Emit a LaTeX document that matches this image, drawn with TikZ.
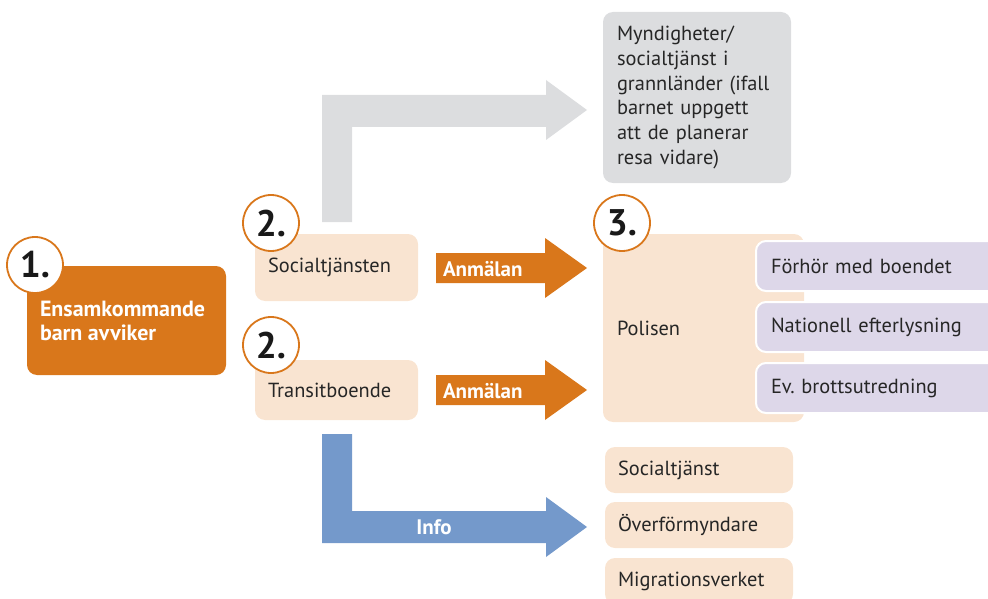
\documentclass[tikz,border=0pt]{standalone}
\usepackage{fontspec}
\setmainfont{PT Sans}
\begin{document}
\begin{tikzpicture}[x=1pt,y=-1pt,
  every node/.style={inner sep=0pt, outer sep=0pt},
  txt/.style={font=\fontsize{20.4}{24.8}\selectfont, text=black!85},
  btxt/.style={font=\fontsize{21}{24}\selectfont\bfseries, text=white},
  numc/.style={circle, draw=myorange, line width=1.8pt, fill=white, minimum size=56, font=\fontsize{37}{37}\selectfont\bfseries, text=black!90},
  pbox/.style={fill=mypeach, rounded corners=10pt, txt, align=left, anchor=north west},
  vbox/.style={fill=mypurple, draw=white, line width=2pt, rounded corners=10pt, txt, align=left, anchor=north west},
  gbox/.style={fill=mygray, rounded corners=10pt, txt, align=left, anchor=north west},
  obox/.style={fill=myorange, rounded corners=10pt, anchor=north west}
]
\definecolor{myorange}{HTML}{D9771B}
\definecolor{mypeach}{HTML}{F9E4D1}
\definecolor{mypurple}{HTML}{DDD7E9}
\definecolor{mygray}{HTML}{DCDDDF}
\definecolor{myblue}{HTML}{7499CB}
\useasboundingbox (0,0) rectangle (988,599);
\clip (0,0) rectangle (988,599);

% block arrows
\fill[mygray] (322,222) -- (322,95) -- (546,95) -- (546,80) -- (587,110) -- (546,140) -- (546,127) -- (352,127) -- (352,222) -- cycle;
\fill[myblue] (322,434) -- (352,434) -- (352,511) -- (546,511) -- (546,497) -- (587,527) -- (546,557) -- (546,543) -- (322,543) -- cycle;
\fill[myorange] (436,253) -- (545,253) -- (545,238) -- (587,268) -- (545,298) -- (545,283) -- (436,283) -- cycle;
\fill[myorange] (436,375) -- (545,375) -- (545,360) -- (587,390) -- (545,420) -- (545,405) -- (436,405) -- cycle;
\node[btxt, anchor=base west] (an1) at (443,276) {Anmälan};
\node[btxt, anchor=base west] (an2) at (443,398) {Anmälan};
\node[btxt] (info) at (434,527) {Info};

% box 1
\node[obox, minimum width=199, minimum height=109] (b1) at (27,266) {};
\node[btxt, font=\fontsize{22}{24}\selectfont\bfseries, anchor=base west, align=left] (b1t) at (40,340) {Ensamkommande\\barn avviker};
\node[numc] (c1) at (35,265) {1.};

% boxes 2
\node[pbox, minimum width=163, minimum height=67, text width=137, inner xsep=13] (s2) at (255,234) {Socialtjänsten};
\node[pbox, minimum width=163, minimum height=60, text width=137, inner xsep=13] (t2) at (255,360) {Transitboende};
\node[numc] (c2a) at (271,223) {2.};
\node[numc] (c2b) at (271,345) {2.};

% gray box
\node[gbox, minimum width=188, minimum height=171, text width=160, inner xsep=14] (g) at (603,12) {Myndigheter/\\socialtjänst i\\grannländer (ifall\\barnet uppgett\\att de planerar\\resa vidare)};

% polisen
\node[pbox, minimum width=187, minimum height=188, text width=173, inner xsep=14] (pol) at (603,234) {Polisen};
\node[vbox, minimum width=260, minimum height=50, text width=230, inner xsep=15] (v1) at (756,241) {Förhör med boendet};
\node[vbox, minimum width=260, minimum height=50, text width=230, inner xsep=15] (v2) at (756,302) {Nationell efterlysning};
\node[vbox, minimum width=260, minimum height=50, text width=230, inner xsep=15] (v3) at (756,363) {Ev.~brottsutredning};
\node[numc] (c3) at (622,223) {3.};

% bottom boxes
\node[pbox, minimum width=188, minimum height=46, text width=162, inner xsep=13] (bb1) at (605,447) {Socialtjänst};
\node[pbox, minimum width=188, minimum height=46, text width=162, inner xsep=13] (bb2) at (605,502) {Överförmyndare};
\node[pbox, minimum width=188, minimum height=46, text width=162, inner xsep=13] (bb3) at (605,558) {Migrationsverket};
\end{tikzpicture}
\end{document}
